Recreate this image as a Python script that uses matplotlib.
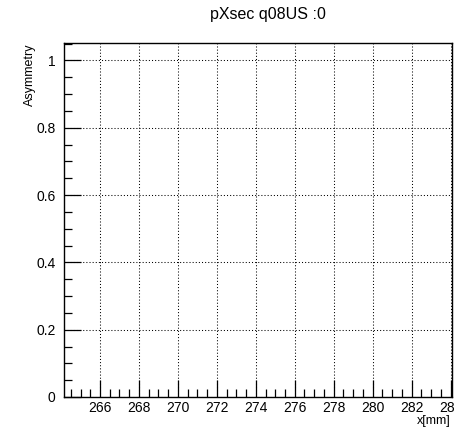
import matplotlib
matplotlib.use("Agg")
import matplotlib.pyplot as plt
from matplotlib.ticker import MultipleLocator

title = "pXsec q08US :0"
x_label = "x[mm]"
y_label = "Asymmetry"
x_range = [264.15, 284.05]
y_range = [0.0, 1.052]
x_major_step = 2
x_minor_step = 0.5
y_major_step = 0.2
y_minor_step = 0.05

plt.rcParams["font.family"] = ["Liberation Sans", "DejaVu Sans"]

fig = plt.figure(figsize=(4.54, 4.32), dpi=100)
ax = fig.add_axes([64 / 454, 1 - 397 / 432, (451.5 - 64) / 454, (397 - 43) / 432])

ax.set_xlim(*x_range)
ax.set_ylim(*y_range)
ax.xaxis.set_major_locator(MultipleLocator(x_major_step))
ax.xaxis.set_minor_locator(MultipleLocator(x_minor_step))
ax.yaxis.set_major_locator(MultipleLocator(y_major_step))
ax.yaxis.set_minor_locator(MultipleLocator(y_minor_step))
ax.yaxis.set_major_formatter(plt.FuncFormatter(lambda v, p: f"{v:g}"))

ax.tick_params(which="both", direction="in", top=False, right=False, colors="black",
               labelsize=10)
ax.tick_params(which="major", length=12, width=0.9)
ax.tick_params(which="minor", length=6, width=0.9)
ax.tick_params(axis="y", pad=6)
ax.tick_params(axis="x", pad=3)

ax.grid(True, which="major", linestyle=(0, (1, 2)), color="black", linewidth=0.75)
for s in ax.spines.values():
    s.set_linewidth(1.0)

fig.text(268 / 454, 1 - 15 / 432, title, ha="center", va="center", fontsize=11.5)
fig.text(30 / 454, 1 - 43 / 432, y_label, rotation=90, ha="center", va="top", fontsize=9)
fig.text(451 / 454, 1 - 421 / 432, x_label, ha="right", va="center", fontsize=9)

fig.savefig("out.png", dpi=100)
